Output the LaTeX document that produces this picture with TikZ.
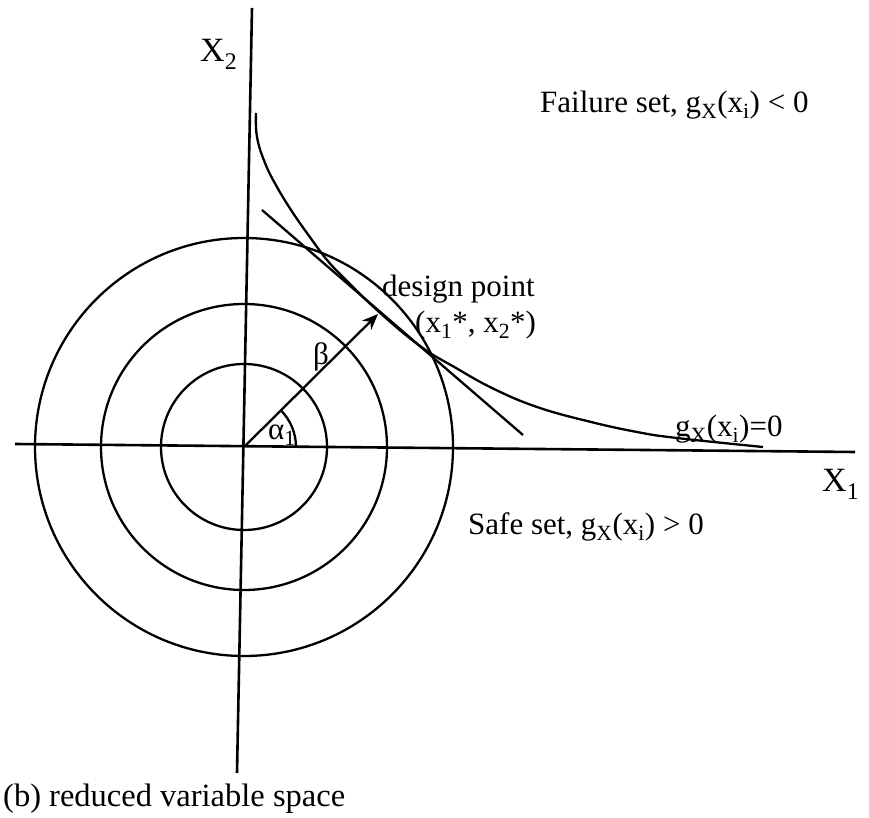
\documentclass[tikz,border=0pt]{standalone}
\usepackage{fontspec}
\setmainfont{Liberation Serif}
\usetikzlibrary{arrows.meta}

\begin{document}
\begin{tikzpicture}[x=1pt,y=1pt]
    \tikzset{axis/.style = {line width=2.6pt}}
    \tikzset{ring/.style = {line width=2.3pt}}
    \tikzset{txt/.style = {inner sep=0pt, anchor=base west, font=\fontsize{31}{37}\selectfont}}
    \tikzset{axtxt/.style = {txt, font=\fontsize{34}{40}\selectfont}}
    \tikzset{edge/.style = {line width=2.3pt, -{Stealth[length=16pt,width=13pt]}}}

    \useasboundingbox (-244,-371) rectangle (625,447);

    % axes
    \coordinate (o) at (0,0);
    \coordinate (x1l) at (-229,3);
    \coordinate (x1r) at (611,-5);
    \coordinate (x2b) at (-7,-326);
    \coordinate (x2t) at (8,439);
    \draw[axis] (x1l) -- (x1r);
    \draw[axis] (x2b) -- (x2t);

    % circles
    \draw[ring] (o) circle[radius=83];
    \draw[ring] (o) circle[radius=143];
    \draw[ring] (o) circle[radius=209];

    % limit state curve and tangent
    \draw[ring] plot[smooth, tension=0.7] coordinates {(12,334) (13,310) (21,284) (33,260) (49,234) (68,207) (83,187) (99,170) (134,136) (176,101) (212,79) (250,58) (293,40) (343,26) (393,15) (433,9) (519,0)};
    \coordinate (t1) at (18,237);
    \coordinate (t2) at (279,12);
    \draw[ring] (t1) -- (t2);

    % beta and angle
    \coordinate (dp) at (134,133);
    \draw[edge] (o) -- (dp);
    \draw[ring] (o) ++(52,0) arc[start angle=0, end angle=45, radius=52];

    % labels
    \node[axtxt] (lx2) at (-44,385) {X\textsubscript{2}};
    \node[axtxt] (lx1) at (578,-45) {X\textsubscript{1}};
    \node[txt] (la) at (24,7) {α\textsubscript{1}};
    \node[txt] (lb) at (69,82) {β};
    \node[txt] (ldp) at (138,150) {design point};
    \node[txt] (lxs) at (171,114) {(x\textsubscript{1}*, x\textsubscript{2}*)};
    \node[txt] (lg) at (431,10) {g\textsubscript{X}(x\textsubscript{i})=0};
    \node[txt] (lfail) at (296,334) {Failure set, g\textsubscript{X}(x\textsubscript{i}) < 0};
    \node[txt] (lsafe) at (224,-88) {Safe set, g\textsubscript{X}(x\textsubscript{i}) > 0};
    \node[txt, font=\fontsize{32.5}{38}\selectfont] (lcap) at (-241,-359) {(b) reduced variable space};
\end{tikzpicture}
\end{document}
